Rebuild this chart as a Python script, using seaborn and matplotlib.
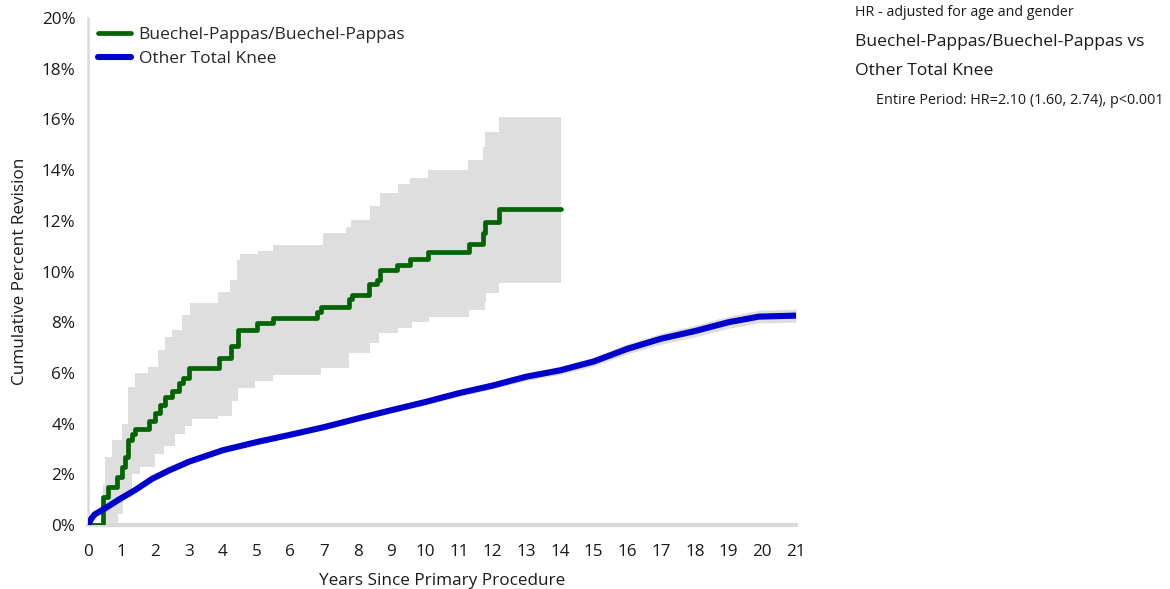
import numpy as np
import pandas as pd
import matplotlib
matplotlib.use('Agg')
import matplotlib.pyplot as plt
import seaborn as sns
from matplotlib.ticker import FuncFormatter

sns.set_theme(style='white')
plt.rcParams['font.family'] = ['Open Sans', 'DejaVu Sans']

# Buechel-Pappas/Buechel-Pappas (Kaplan-Meier steps, value holds from x onward)
bp_x = [0, 0.45, 0.6, 0.86, 1.0, 1.1, 1.2, 1.3, 1.4, 1.8, 2.0, 2.15, 2.27, 2.48, 2.7, 2.83, 3.0, 3.9,
        4.25, 4.45, 5.0, 5.48, 6.78, 6.92, 7.75, 7.82, 8.34, 8.56, 8.65, 9.18, 9.55, 10.07, 11.3,
        11.73, 11.78, 12.2, 14.03]
bp_y = [0, 1.1, 1.5, 1.9, 2.3, 2.7, 3.35, 3.6, 3.8, 4.1, 4.4, 4.75, 5.06, 5.3, 5.6, 5.8, 6.2, 6.6,
        7.05, 7.7, 7.95, 8.15, 8.4, 8.6, 8.9, 9.07, 9.5, 9.66, 10.06, 10.25, 10.5, 10.78, 11.1,
        11.5, 11.96, 12.45, 12.45]

# 95% CI for Buechel-Pappas
bp_hi_x = [0.45, 0.5, 0.7, 1.0, 1.2, 1.39, 1.79, 2.09, 2.28, 2.48, 2.78, 3.03, 3.87, 4.21, 4.41, 4.5,
           5.05, 5.5, 6.96, 7.66, 7.8, 8.35, 8.65, 9.2, 9.55, 10.07, 11.28, 11.73, 11.78, 12.2, 14.03]
bp_hi_y = [1.6, 2.7, 3.35, 4.0, 5.45, 6.0, 6.25, 6.9, 7.4, 7.7, 8.3, 8.75, 9.2, 9.66, 10.45, 10.7,
           10.8, 11.05, 11.5, 11.77, 12.03, 12.58, 13.1, 13.45, 13.7, 14.0, 14.4, 14.9, 15.5, 16.1, 16.1]
bp_lo_x = [0.45, 0.9, 1.05, 1.3, 1.54, 1.99, 2.24, 2.58, 2.88, 3.08, 3.87, 4.26, 4.46, 4.96, 5.5,
           6.9, 7.75, 8.37, 8.62, 9.2, 9.6, 10.1, 11.3, 11.78, 11.8, 12.2, 14.03]
bp_lo_y = [0.0, 0.45, 1.1, 2.0, 2.3, 2.8, 3.1, 3.6, 3.9, 4.2, 4.3, 4.9, 5.4, 5.7, 5.9,
           6.2, 6.8, 7.17, 7.56, 7.76, 8.02, 8.2, 8.48, 8.8, 9.16, 9.56, 9.56]

# Other Total Knee
otk_x = [0, 0.1, 0.2, 0.5, 0.9, 1.4, 1.9, 2.4, 3, 4, 5, 6, 7, 8, 9, 10, 11, 12, 13, 14,
         15, 16, 17, 18, 19, 19.9, 21]
otk_y = [0, 0.25, 0.42, 0.65, 0.99, 1.38, 1.82, 2.15, 2.5, 2.95, 3.27, 3.56, 3.86, 4.2, 4.53,
         4.85, 5.2, 5.5, 5.85, 6.1, 6.45, 6.95, 7.35, 7.65, 8.0, 8.22, 8.26]
otk_lo = [0, 0.2, 0.37, 0.6, 0.94, 1.33, 1.77, 2.1, 2.44, 2.89, 3.2, 3.49, 3.78, 4.11, 4.43,
          4.74, 5.08, 5.37, 5.7, 5.94, 6.27, 6.75, 7.13, 7.42, 7.76, 7.97, 8.0]
otk_hi = [0, 0.3, 0.47, 0.7, 1.04, 1.43, 1.87, 2.2, 2.56, 3.01, 3.34, 3.63, 3.94, 4.29, 4.63,
          4.96, 5.32, 5.63, 6.0, 6.26, 6.63, 7.15, 7.57, 7.88, 8.24, 8.47, 8.52]

green = '#006400'
blue = '#0000cc'
band = '#dedede'
axis_grey = '#d9d9d9'
text_col = '#1a1a1a'


def step_vertices(x, y):
    xs, ys = [], []
    for i in range(len(x) - 1):
        xs += [x[i], x[i + 1]]
        ys += [y[i], y[i]]
    return xs, ys


fig = plt.figure(figsize=(11.7, 5.89), dpi=100)
ax = fig.add_axes([88 / 1170, 64 / 589, 708 / 1170, 507 / 589])

# confidence bands
ux, uy = step_vertices(bp_hi_x, bp_hi_y)
lx, ly = step_vertices(bp_lo_x, bp_lo_y)
ax.fill(ux + lx[::-1], uy + ly[::-1], color=band, lw=0, zorder=1)
ax.fill_between(otk_x, otk_lo, otk_hi, color=band, lw=0, zorder=1)

df_bp = pd.DataFrame({'years': bp_x, 'pct': bp_y})
df_otk = pd.DataFrame({'years': otk_x, 'pct': otk_y})
sns.lineplot(data=df_bp, x='years', y='pct', ax=ax, color=green, lw=3.4, drawstyle='steps-post',
             estimator=None, sort=False, label='Buechel-Pappas/Buechel-Pappas', zorder=3)
sns.lineplot(data=df_otk, x='years', y='pct', ax=ax, color=blue, lw=4.4,
             estimator=None, sort=False, label='Other Total Knee', zorder=4)

ax.set_xlim(0, 21)
ax.set_ylim(0, 20)
ax.set_xticks(range(0, 22))
ax.set_yticks(range(0, 21, 2))
ax.yaxis.set_major_formatter(FuncFormatter(lambda v, p: f'{int(v)}%'))
ax.tick_params(axis='both', which='major', labelsize=12.3, colors=axis_grey, labelcolor=text_col,
               length=4, width=1, direction='out', pad=5)
ax.tick_params(axis='x', pad=10)
for side in ['top', 'right']:
    ax.spines[side].set_visible(False)
ax.spines['left'].set_color(axis_grey)
ax.spines['left'].set_linewidth(1.8)
ax.spines['bottom'].set_color(axis_grey)
ax.spines['bottom'].set_linewidth(3)
ax.spines['left'].set_zorder(0)

ax.set_xlabel('Years Since Primary Procedure', fontsize=12.3, color=text_col, labelpad=9)
ax.set_ylabel('Cumulative Percent Revision', fontsize=12.3, color=text_col, labelpad=10)

ax.legend(loc='upper left', bbox_to_anchor=(3 / 708, 1 - 2 / 507), frameon=False, fontsize=12.5,
          handlelength=1.9, handletextpad=0.45, labelspacing=0.45, borderaxespad=0)

fig.text(855 / 1170, 1 - 12 / 589, 'HR - adjusted for age and gender', fontsize=10.3,
         color=text_col, va='center', ha='left')
fig.text(855 / 1170, 1 - 42 / 589, 'Buechel-Pappas/Buechel-Pappas vs', fontsize=12.6,
         color=text_col, va='center', ha='left')
fig.text(855 / 1170, 1 - 71 / 589, 'Other Total Knee', fontsize=12.6,
         color=text_col, va='center', ha='left')
fig.text(876 / 1170, 1 - 101 / 589, 'Entire Period: HR=2.10 (1.60, 2.74), p<0.001', fontsize=10.4,
         color=text_col, va='center', ha='left')

fig.savefig('out.png', dpi=100)
